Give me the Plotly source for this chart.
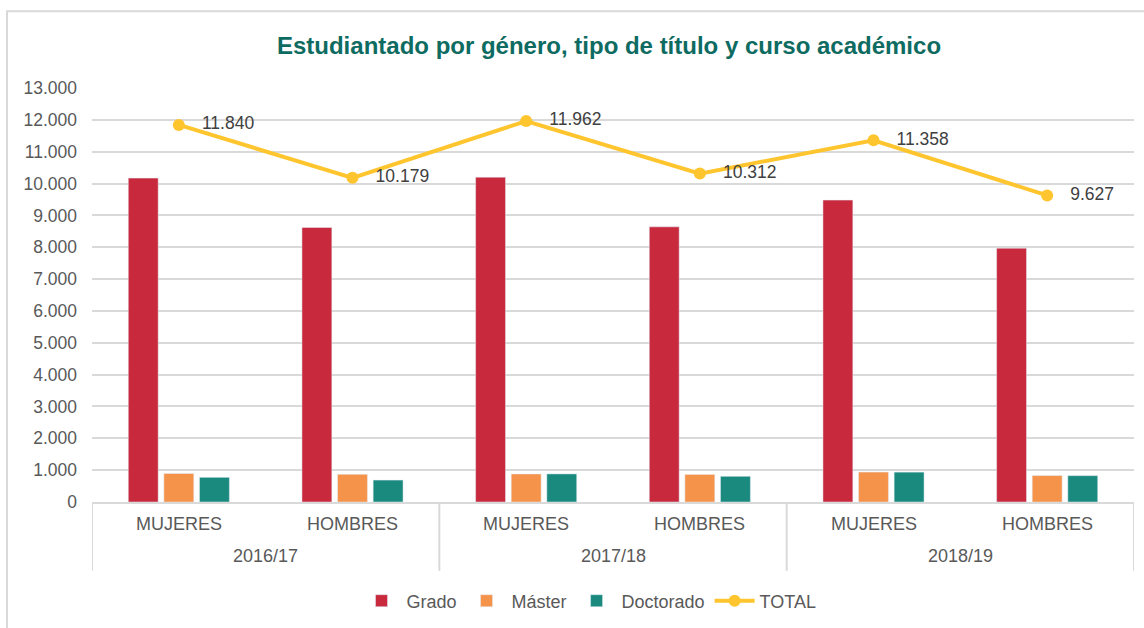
import plotly.graph_objects as go

# Datos del gráfico
cursos = ["2016/17", "2017/18", "2018/19"]
generos = ["MUJERES", "HOMBRES", "MUJERES", "HOMBRES", "MUJERES", "HOMBRES"]
grado = [10170, 8620, 10200, 8640, 9480, 7970]
master = [895, 870, 880, 865, 940, 830]
doctorado = [775, 689, 882, 807, 938, 827]
total = [11840, 10179, 11962, 10312, 11358, 9627]

pos = list(range(len(generos)))
FONT = "Liberation Sans, Arial, sans-serif"
GRAY = "#595959"
LINE = "#d9d9d9"

W, H = 1144, 628
PL, PT, PW, PH = 92, 88, 1042, 415   # área de trazado en px


def px_x(px):
    return (px - PL) / PW


def px_y(py):
    return (PT + PH - py) / PH


fig = go.Figure()
fig.add_trace(go.Bar(x=pos, y=grado, name="Grado", marker_color="#c8293d"))
fig.add_trace(go.Bar(x=pos, y=master, name="Máster", marker_color="#f5934a"))
fig.add_trace(go.Bar(x=pos, y=doctorado, name="Doctorado", marker_color="#1a8a7e"))
fig.add_trace(go.Scatter(
    x=pos, y=total, name="TOTAL", mode="lines+markers+text",
    line=dict(color="#fec52e", width=4),
    marker=dict(color="#fec52e", size=12),
    texttemplate="\u00a0\u00a0\u00a0%{y:,d}", textposition="middle right",
    textfont=dict(size=17.5, color="#404040", family=FONT),
))

# etiquetas del eje de categorías (género y curso)
for p, g in zip(pos, generos):
    fig.add_annotation(x=p, y=px_y(525), xref="x", yref="paper", text=g,
                       showarrow=False, yanchor="middle",
                       font=dict(size=18, color=GRAY, family=FONT))
for i, c in enumerate(cursos):
    fig.add_annotation(x=2 * i + 0.5, y=px_y(557), xref="x", yref="paper", text=c,
                       showarrow=False, yanchor="middle",
                       font=dict(size=18, color=GRAY, family=FONT))
for b in [-0.5, 1.5, 3.5, 5.5]:
    fig.add_shape(type="line", xref="x", yref="paper", x0=b, x1=b,
                  y0=0, y1=px_y(572), line=dict(color=LINE, width=2))

# marco exterior del gráfico
fig.add_shape(type="rect", xref="paper", yref="paper",
              x0=px_x(7), x1=px_x(1170), y0=px_y(650), y1=px_y(11),
              line=dict(color=LINE, width=2), layer="below")

fig.update_layout(
    width=W, height=H,
    margin=dict(l=PL, r=W - PL - PW, t=PT, b=H - PT - PH),
    paper_bgcolor="white", plot_bgcolor="white",
    separators=",.",
    font=dict(family=FONT, size=17.5, color=GRAY),
    title=dict(text="<b>Estudiantado por género, tipo de título y curso académico</b>",
               x=609 / W, xref="container", xanchor="center",
               y=1 - 46 / H, yref="container", yanchor="middle",
               font=dict(size=24, color="#0e6b61", family=FONT)),
    barmode="group", bargap=0.385, bargroupgap=0.16,
    showlegend=True,
    legend=dict(orientation="h", x=px_x(589), xanchor="center",
                y=px_y(601), yanchor="middle",
                font=dict(size=18, color=GRAY), traceorder="normal",
                itemwidth=40, tracegroupgap=0),
    xaxis=dict(range=[-0.5, 5.5], showticklabels=False, showgrid=False,
               zeroline=False, showline=True, linecolor=LINE, linewidth=2,
               ticks=""),
    yaxis=dict(range=[0, 13000], dtick=1000, tickformat=",d",
               showgrid=True, gridcolor=LINE, gridwidth=2, ticklabelstandoff=14,
               zeroline=False, tickfont=dict(size=17.5, color=GRAY)),
)

# sin margen en el body para que la figura ocupe toda la ventana
fig.write_html("out.html", config={"displayModeBar": False},
               post_script="document.body.style.margin='0';")
